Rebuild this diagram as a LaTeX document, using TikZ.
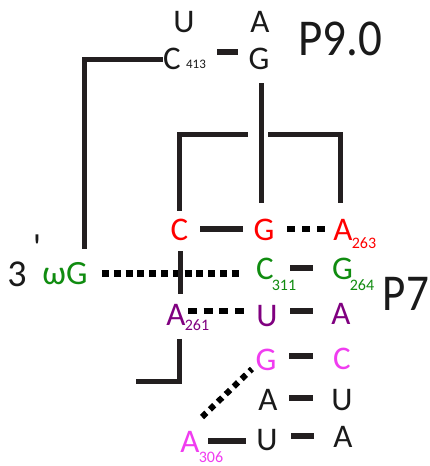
\documentclass[tikz,border=0pt]{standalone}
\usepackage{fontspec}
\setmainfont{Carlito}
\usetikzlibrary{calc}
\definecolor{rnared}{HTML}{FF0000}
\definecolor{rnagreen}{HTML}{108C10}
\definecolor{rnapurple}{HTML}{800080}
\definecolor{rnamag}{HTML}{F03CF0}
\definecolor{ink}{HTML}{1A1A1A}
\definecolor{linec}{HTML}{231F20}
\tikzset{
  base/.style={inner sep=0pt, text=ink, font=\fontsize{33}{36}\selectfont},
  subs/.style={inner sep=0pt, font=\fontsize{16}{18}\selectfont},
  label/.style={inner sep=0pt, text=ink, font=\fontsize{47}{50}\selectfont},
  bar/.style={draw=linec, line width=6pt, line cap=butt},
  bracket/.style={draw=linec, line width=5pt, line cap=butt, line join=miter},
  dots/.style={draw=black, line width=6.5pt, line cap=butt},
}
\newcommand\linkab[6][]{\draw[#1] ($(#2)!0.5!(#3)+(#4-#6,#5)$) -- ($(#2)!0.5!(#3)+(#4+#6,#5)$);}
\begin{document}
\begin{tikzpicture}[x=1pt,y=-1pt]
\fill[white] (0,0) rectangle (429,466);
\useasboundingbox (0,0) rectangle (429,466);
% P9.0 region
\node[base] (u1) at (184,22) {U};
\node[base] (a1) at (260,22) {A};
\node[base] (c413) at (172,59) {C};
\node[subs, text=ink, font=\fontsize{13}{15}\selectfont] (s413) at (196,64) {413};
\node[base] (g1) at (259,59) {G};
\node[label] (p90) at (340,39) {\scalebox{1}[1.1]{P9.0}};
% row 1
\node[base, text=rnared] (cR) at (179.5,230) {C};
\node[base, text=rnared] (gR) at (264,230) {G};
\node[base, text=rnared] (aR) at (343,230) {A};
\node[subs, text=rnared] (s263) at (364,243) {263};
% row 2
\node[base, font=\fontsize{38}{40}\selectfont] (three) at (17,274) {3};
\node[base, font=\fontsize{38}{40}\selectfont] (prime) at (37,248) {\textquotesingle};
\node[base, text=rnagreen, font=\fontsize{34}{36}\selectfont] (wG) at (65,274) {ωG};
\node[base, text=rnagreen] (cG) at (265,269) {C};
\node[subs, text=rnagreen] (s311) at (284,285) {311};
\node[base, text=rnagreen] (gG) at (342.5,269) {G};
\node[subs, text=rnagreen] (s264) at (362,285) {264};
\node[label, font=\fontsize{45}{48}\selectfont] (p7) at (406,293.5) {\scalebox{1}[1.15]{P7}};
% row 3
\node[base, text=rnapurple] (aP) at (176,315) {A};
\node[subs, text=rnapurple] (s261) at (197,325) {261};
\node[base, text=rnapurple] (uP) at (267,316) {U};
\node[base, text=rnapurple] (aP2) at (341,314) {A};
% row 4
\node[base, text=rnamag] (gM) at (266,360) {G};
\node[base, text=rnamag] (cM) at (342,359) {C};
% row 5
\node[base] (a5) at (268,400) {A};
\node[base] (u5) at (342,400) {U};
% row 6
\node[base, text=rnamag] (a6) at (190,442) {A};
\node[subs, text=rnamag] (s306) at (211,457.5) {306};
\node[base] (u6) at (267,440) {U};
\node[base] (a7) at (343,437) {A};
% pair bars
\linkab[bar]{c413}{g1}{12}{-7}{10.5}
\linkab[bar]{cR}{gR}{0}{-1}{21.5}
\linkab[bar]{cG}{gG}{-2}{-1}{11.5}
\linkab[bar]{uP}{aP2}{-2.5}{-4}{11.5}
\linkab[bar]{gM}{cM}{-3}{-3.5}{12}
\linkab[bar]{a5}{u5}{-4}{-2}{12}
\linkab[bar]{a6}{u6}{-1.5}{0}{19}
\linkab[bar]{u6}{a7}{-2.5}{-2.5}{11.5}
% dotted interactions
\linkab[dots, dash pattern=on 8pt off 7pt]{gR}{aR}{2.5}{-1}{19}
\linkab[dots, dash pattern=on 7pt off 4.8pt]{wG}{cG}{7}{2}{70}
\linkab[dots, dash pattern=on 9pt off 6.7pt]{aP}{uP}{-5.5}{-4.5}{28}
\draw[dots, line width=6pt, dash pattern=on 6pt off 5pt] ($(a6)+(12,-25)$) -- ($(gM)+(-14,9)$);
% backbone lines
\draw[bracket] (c413.west) -| ($(wG.north)+(19,-14)$);
\draw[bracket] ($(g1.south)+(2,13)$) -- ($(gR.north)+(-3,-16)$);
\draw[bracket] ($(cR.north)+(0,-8)$) |- ($(gR.north)+(-16,-84)$);
\draw[bracket] ($(gR.north)+(4,-84)$) -| ($(aR.north)+(-2.5,-16)$);
\draw[bracket] ($(cR.south)+(0.5,10)$) -- ($(cR.south |- aP.north)+(0.5,-10)$);
\coordinate (tail) at ($(aP.south)+(-40,56)$);
\draw[bracket] ($(aP.south)+(3,13)$) |- (tail);
\end{tikzpicture}
\end{document}
